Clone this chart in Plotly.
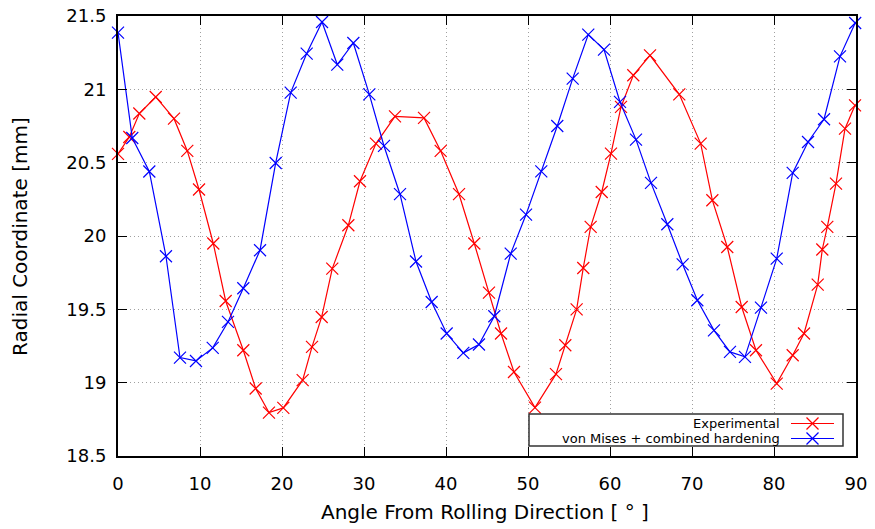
import plotly.graph_objects as go

# ---- data ----
exp_angle = [0, 1.38, 2.6, 4.6, 6.83, 8.45, 9.88, 11.62, 13.13, 15.28, 16.79, 18.41, 20.16,
             22.52, 23.66, 24.84, 26.13, 28.09, 29.51, 31.46, 33.78, 37.32, 39.35, 41.59,
             43.45, 45.24, 46.71, 48.29, 50.85, 53.41, 54.55, 55.93, 56.74, 57.64, 58.99,
             60.12, 61.34, 62.84, 64.88, 68.45, 71.06, 72.48, 74.3, 76.06, 77.8, 80.33,
             82.28, 83.66, 85.33, 85.89, 86.5, 87.56, 88.66, 89.88]
exp_radius = [20.56, 20.675, 20.835, 20.948, 20.80, 20.58, 20.317, 19.949, 19.557, 19.221,
              18.96, 18.796, 18.828, 19.017, 19.244, 19.448, 19.778, 20.073, 20.373, 20.63,
              20.816, 20.805, 20.58, 20.285, 19.949, 19.614, 19.335, 19.073, 18.83, 19.058,
              19.255, 19.5, 19.782, 20.062, 20.3, 20.562, 20.88, 21.096, 21.232, 20.966,
              20.63, 20.244, 19.925, 19.516, 19.221, 18.994, 19.187, 19.335, 19.669, 19.908,
              20.062, 20.357, 20.732, 20.891]

vm_angle = [0, 1.74, 3.82, 5.85, 7.56, 9.51, 11.55, 13.41, 15.28, 17.32, 19.23, 21.06, 23.01,
            24.88, 26.74, 28.7, 30.65, 32.44, 34.39, 36.34, 38.25, 40.08, 42.11, 44.02,
            45.89, 47.89, 49.76, 51.62, 53.57, 55.45, 57.35, 59.27, 61.22, 63.17, 65.0,
            66.99, 68.86, 70.65, 72.68, 74.63, 76.46, 78.41, 80.33, 82.28, 84.15, 86.1,
            88.05, 89.9]
vm_radius = [21.387, 20.668, 20.44, 19.862, 19.171, 19.148, 19.237, 19.414, 19.644, 19.903,
             20.498, 20.978, 21.244, 21.459, 21.169, 21.316, 20.966, 20.614, 20.285, 19.826,
             19.55, 19.335, 19.203, 19.26, 19.453, 19.88, 20.146, 20.441, 20.75, 21.073,
             21.373, 21.271, 20.914, 20.657, 20.362, 20.08, 19.807, 19.562, 19.357, 19.21,
             19.176, 19.512, 19.846, 20.43, 20.641, 20.796, 21.225, 21.452]

series_names = ["Experimental", "von Mises + combined hardening"]
series_colors = ["#ff0000", "#0000ff"]

x_ticks = list(range(0, 91, 10))
y_ticks = [18.5, 19, 19.5, 20, 20.5, 21, 21.5]

x_title = "Angle From Rolling Direction [ ° ]"
y_title = "Radial Coordinate [mm]"

FONT = "DejaVu Sans"
W, H = 875, 529
ML, MR, MT, MB = 118, 19, 16, 73

fig = go.Figure()
for xs, ys, name, col in [(exp_angle, exp_radius, series_names[0], series_colors[0]),
                          (vm_angle, vm_radius, series_names[1], series_colors[1])]:
    fig.add_trace(go.Scatter(
        x=xs, y=ys, name=name, mode="lines+markers",
        line=dict(color=col, width=1.2),
        marker=dict(symbol="x-thin-open", size=12, line=dict(color=col, width=1.2)),
        showlegend=False, cliponaxis=False))

axis_common = dict(
    showline=True, linecolor="black", linewidth=2, mirror="allticks",
    ticks="inside", ticklen=9, tickwidth=1, tickcolor="black",
    showgrid=True, gridcolor="#a0a0a0", griddash="1px,3px", gridwidth=1,
    zeroline=False, automargin=False,
    tickfont=dict(family=FONT, size=18, color="black"),
)

fig.update_xaxes(range=[0, 90], tickvals=x_ticks, ticklabelstandoff=10, **axis_common)
fig.update_yaxes(range=[18.5, 21.5], tickvals=y_ticks, ticklabelstandoff=6, **axis_common)

pw, ph = W - ML - MR, H - MT - MB
def px(x):
    return (x - ML) / pw
def py(y):
    return (H - MB - y) / ph

shapes = []
annotations = []
# axis titles
annotations.append(dict(xref="paper", yref="paper", x=px(485), y=py(512),
                        xanchor="center", yanchor="middle", showarrow=False,
                        text=x_title, font=dict(family=FONT, size=20, color="black")))
annotations.append(dict(xref="paper", yref="paper", x=px(20), y=py(237),
                        xanchor="center", yanchor="middle", showarrow=False, textangle=-90,
                        text=y_title, font=dict(family=FONT, size=20, color="black")))
# legend box
shapes.append(dict(type="rect", xref="paper", yref="paper",
                   x0=px(529), x1=px(843), y0=py(446), y1=py(414),
                   line=dict(color="#333333", width=1.5), fillcolor="white", layer="above"))
rows = [423.5, 438.5]
for name, col, ry in zip(series_names, series_colors, rows):
    annotations.append(dict(xref="paper", yref="paper", x=px(782), y=py(ry),
                            xanchor="right", yanchor="middle", showarrow=False,
                            text=name, font=dict(family=FONT, size=13, color="black")))
    shapes.append(dict(type="line", xref="paper", yref="paper",
                       x0=px(791), x1=px(834), y0=py(ry), y1=py(ry),
                       line=dict(color=col, width=1.2), layer="above"))
    cx = 812.5
    for d in (1, -1):
        shapes.append(dict(type="line", xref="paper", yref="paper",
                           x0=px(cx - 6), x1=px(cx + 6), y0=py(ry - 6 * d), y1=py(ry + 6 * d),
                           line=dict(color=col, width=1.2), layer="above"))

fig.update_layout(
    width=W, height=H, autosize=False,
    margin=dict(l=ML, r=MR, t=MT, b=MB),
    paper_bgcolor="white", plot_bgcolor="white",
    font=dict(family=FONT, size=18, color="black"),
    shapes=shapes, annotations=annotations,
)

fig.write_html("out.html")
